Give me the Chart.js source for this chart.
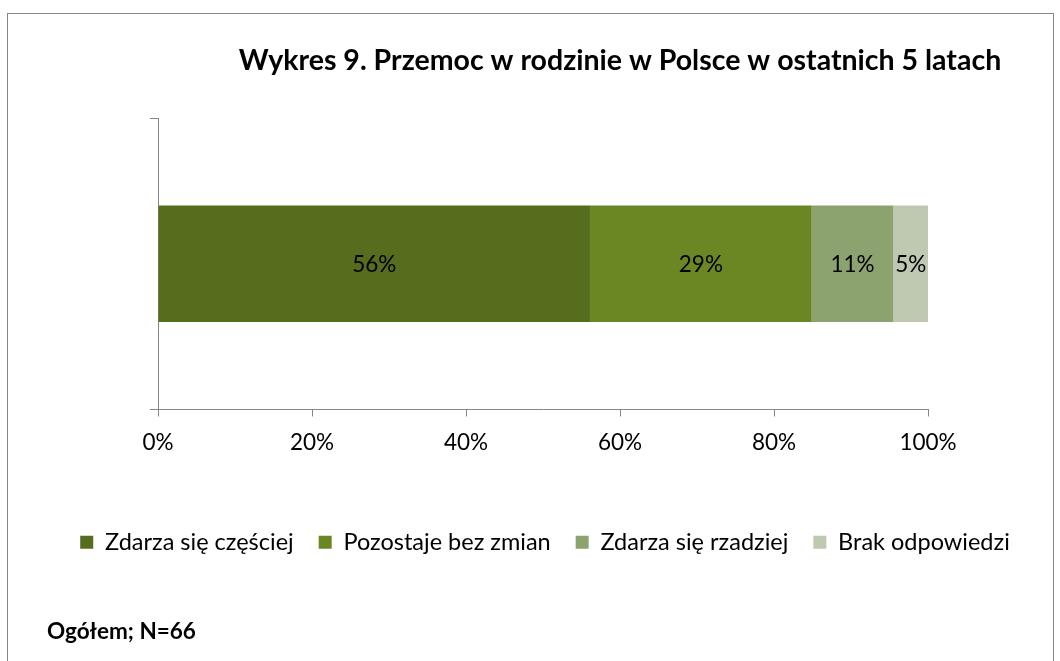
<!DOCTYPE html>
<html>
<head>
<meta charset="utf-8">
<script src="https://cdn.jsdelivr.net/npm/chart.js@4.4.1/dist/chart.umd.min.js"></script>
<style>
  html, body { margin: 0; padding: 0; background: #fff; }
</style>
</head>
<body>
<canvas id="chart" width="1060" height="661"></canvas>
<script>
// data
const categories = [''];
const seriesNames = ['Zdarza się częściej', 'Pozostaje bez zmian', 'Zdarza się rzadziej', 'Brak odpowiedzi'];
const seriesValues = [56.1, 28.8, 10.6, 4.5];
const seriesColors = ['#556d1c', '#6b8723', '#8da36f', '#bfc9b1'];
const tickStep = 20;
const titleText = 'Wykres 9. Przemoc w rodzinie w Polsce w ostatnich 5 latach';
const noteText = 'Ogółem; N=66';

const FONT = 'Lato, "Open Sans", sans-serif';
const AXIS = '#868686';

// frame, title, footnote and the value labels inside the bars
const extras = {
  id: 'extras',
  beforeDraw(chart) {
    const ctx = chart.ctx;
    ctx.save();
    ctx.strokeStyle = AXIS;
    ctx.lineWidth = 1;
    ctx.strokeRect(7.5, 13.5, 1046, 700);
    ctx.restore();
  },
  afterDatasetsDraw(chart) {
    const ctx = chart.ctx;
    ctx.save();
    ctx.font = '22.5px ' + FONT;
    ctx.fillStyle = '#000';
    ctx.textAlign = 'center';
    ctx.textBaseline = 'middle';
    chart.data.datasets.forEach((ds, i) => {
      chart.getDatasetMeta(i).data.forEach((bar, j) => {
        const x = (bar.x + bar.base) / 2;
        ctx.fillText(Math.round(ds.data[j]) + '%', x, bar.y + 1);
      });
    });
    ctx.restore();
  },
  afterDraw(chart) {
    const ctx = chart.ctx;
    ctx.save();
    ctx.fillStyle = '#000';
    ctx.textBaseline = 'middle';
    ctx.textAlign = 'center';
    ctx.font = 'bold 28.5px ' + FONT;
    ctx.fillText(titleText, 620, 61);
    ctx.textAlign = 'left';
    ctx.font = 'bold 22.5px ' + FONT;
    ctx.fillText(noteText, 47, 632);
    ctx.restore();
  }
};

new Chart(document.getElementById('chart'), {
  type: 'bar',
  data: {
    labels: categories,
    datasets: seriesNames.map((name, i) => ({
      label: name,
      data: [seriesValues[i]],
      backgroundColor: seriesColors[i],
      borderWidth: 0,
      categoryPercentage: 1,
      barPercentage: 0.4
    }))
  },
  options: {
    responsive: false,
    devicePixelRatio: 1,
    animation: false,
    indexAxis: 'y',
    layout: { padding: { left: 30, right: 0, top: 118, bottom: 97 } },
    plugins: {
      title: { display: false },
      tooltip: { enabled: false },
      legend: {
        position: 'bottom',
        labels: {
          boxWidth: 13,
          boxHeight: 13,
          padding: 25,
          color: '#000',
          font: { family: FONT, size: 23.5 }
        }
      }
    },
    scales: {
      x: {
        stacked: true,
        min: 0,
        max: 100,
        ticks: {
          stepSize: tickStep,
          color: '#000',
          padding: 13,
          font: { family: FONT, size: 22.5 },
          callback: v => v + '%'
        },
        grid: { drawOnChartArea: false, tickLength: 7, color: AXIS },
        border: { color: AXIS },
        afterFit(s) { s.height = 96; }
      },
      y: {
        stacked: true,
        ticks: { display: false },
        grid: { drawOnChartArea: false, tickLength: 8, color: AXIS, offset: true },
        border: { color: AXIS },
        afterFit(s) { s.width = 128; }
      },
      yRight: {
        position: 'right',
        display: true,
        ticks: { display: false },
        grid: { display: false },
        border: { display: false },
        afterFit(s) { s.width = 132; }
      }
    }
  },
  plugins: [extras]
});
</script>
</body>
</html>
